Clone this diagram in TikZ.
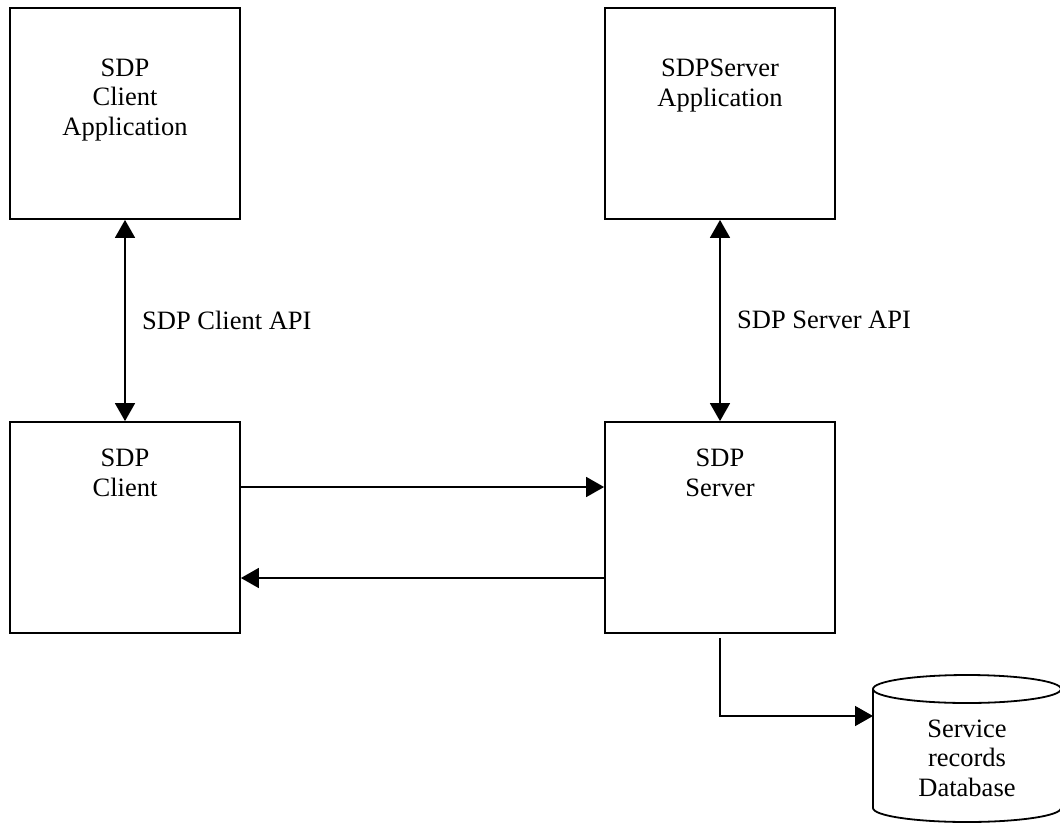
\documentclass[tikz,border=0pt]{standalone}
\usepackage{fontspec}
\setmainfont{Liberation Serif}
\usepackage{tikz}
\usetikzlibrary{arrows.meta,positioning}
\tikzstyle{box}=[draw,line width=1.8pt,minimum width=230pt,minimum height=211pt,inner sep=0pt]
\tikzstyle{boxtext}=[align=center,inner sep=0pt,font=\fontsize{26.5}{29.5}\selectfont]
\tikzstyle{apilabel}=[anchor=west,inner sep=0pt,font=\fontsize{26.5}{29.5}\selectfont]
\tikzstyle{link} = [draw,line width=1.6pt,-{Triangle[length=18pt,width=20pt]}]
\tikzstyle{twoway} = [draw,line width=1.6pt,{Triangle[length=18pt,width=20pt]}-{Triangle[length=18pt,width=20pt]}]

\begin{document}
\begin{tikzpicture}[x=1pt,y=1pt]
    \useasboundingbox (0,0) rectangle (1060,-825);
    % First we draw the boxes
    \foreach \pos/\name in {{(125,-113.5)/cliapp}, {(720,-113.5)/srvapp}, {(125,-527.5)/cli}, {(720,-527.5)/srv}}
        \node[box] (\name) at \pos {};
    % Then the texts in them
    \foreach \pos/\name/\txt in {{(125,-100)/cliapptext/{SDP\\Client\\Application}},
                                 {(720,-85.5)/srvapptext/{SDPServer\\Application}},
                                 {(125,-473)/clitext/{SDP\\Client}},
                                 {(720,-473)/srvtext/{SDP\\Server}}}
        \node[boxtext] (\name) at \pos {\txt};
    % The database
    \draw[line width=1.8pt] (873,-689) -- (873,-808)
        arc[start angle=180,end angle=360,x radius=94,y radius=14] -- (1061,-689);
    \draw[line width=1.8pt] (967,-689) ellipse [x radius=94,y radius=14];
    \node[boxtext] (db) at (967,-758) {Service\\records\\Database};
    \coordinate (dbin) at (873,-716);
    % API labels
    \node[apilabel] (cliapi) at (142,-320) {SDP Client API};
    \node[apilabel] (srvapi) at (737,-320) {SDP Server API};
    % Connect boxes with arrows
    \foreach \source/ \dest in {cliapp/cli, srvapp/srv}
        \path[twoway] (\source.south) -- (\dest.north);
    \path[link] ([yshift=40.5pt]cli.east) -- ([yshift=40.5pt]srv.west);
    \path[link] ([yshift=-50.5pt]srv.west) -- ([yshift=-50.5pt]cli.east);
    \path[link] ([yshift=-4pt]srv.south) |- (dbin);
\end{tikzpicture}
\end{document}
